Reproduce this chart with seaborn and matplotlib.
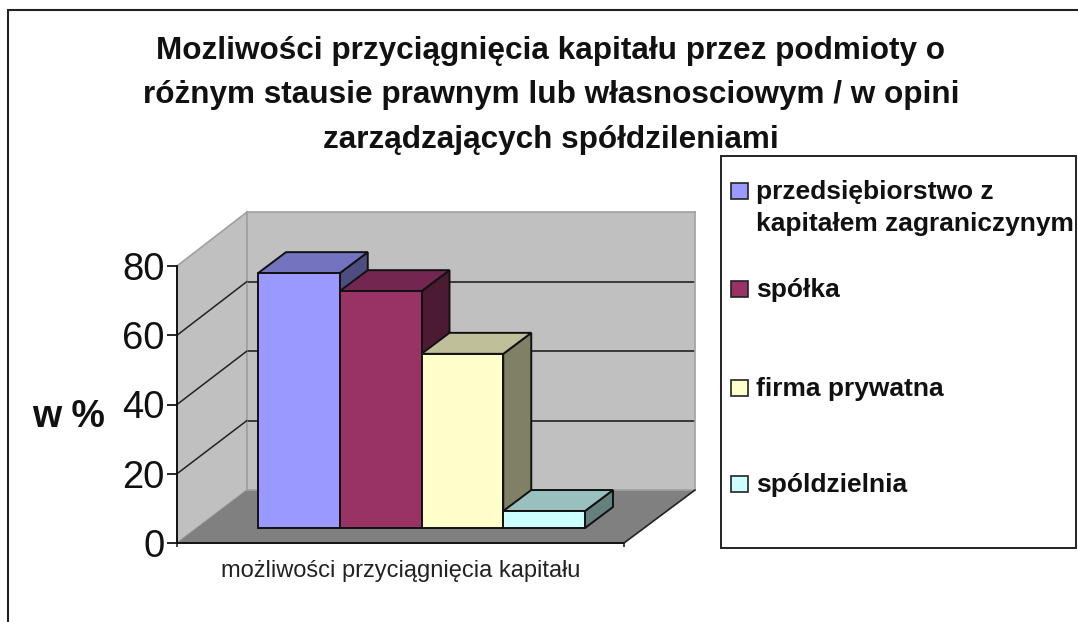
import matplotlib
matplotlib.use('Agg')
import matplotlib.pyplot as plt
import pandas as pd
import seaborn as sns
from matplotlib.patches import Polygon, Rectangle

# values
group = 'możliwości przyciągnięcia kapitału'
series = ['przedsiębiorstwo z\nkapitałem zagraniczynym', 'spółka', 'firma prywatna', 'spóldzielnia']
values = [73.6, 68.4, 50.3, 4.9]
y_ticks = [0, 20, 40, 60, 80]
bar_colors = ['#9999FF', '#993366', '#FFFFCC', '#CCFFFF']
top_colors = ['#7373BF', '#732650', '#BFBF99', '#99BFBF']
side_colors = ['#4D4D80', '#4D1A33', '#808066', '#668080']
title = ('Mozliwości przyciągnięcia kapitału przez podmioty o\n'
         'różnym stausie prawnym lub własnosciowym / w opini\n'
         'zarządzających spółdzileniami')

W, H = 1078, 622
sns.set_style('white')
plt.rcParams['font.family'] = ['Liberation Sans', 'DejaVu Sans']

fig = plt.figure(figsize=(W / 100, H / 100), dpi=100)


def fx(px):
    return px / W


def fy(py):
    return 1 - py / H


def box(x0, x1, y_top, y_bottom):
    return [fx(x0), fy(y_bottom), (x1 - x0) / W, (y_bottom - y_top) / H]


def fig_poly(points, **kw):
    fig.add_artist(Polygon([(fx(x), fy(y)) for x, y in points], closed=True,
                           transform=fig.transFigure, **kw))


# outer border, runs off the right and bottom of the picture
fig.add_artist(Rectangle((fx(7.5), fy(700)), 1.2, fy(9.5) - fy(700), transform=fig.transFigure,
                         fill=False, edgecolor='#222222', linewidth=1.5))

fig.text(fx(551), fy(36), title, ha='center', va='top', fontsize=22.7, fontweight='bold',
         linespacing=1.62, color='#111111')

# chart planes
front = (177, 624, 266, 543)
back = (247, 695, 212, 490)
plane = (198, 645, 251, 528)

fig_poly([(front[0], front[2]), (back[0], back[2]), (back[0], back[3]), (front[0], front[3])],
         facecolor='#C0C0C0', edgecolor='#A0A0A0', linewidth=1.2, zorder=0.2)
fig_poly([(front[0], front[3]), (front[1], front[3]), (back[1], back[3]), (back[0], back[3])],
         facecolor='#808080', edgecolor='none', zorder=0.2)

ax_back = fig.add_axes(box(*back), zorder=1)
ax_back.set_facecolor('#C0C0C0')
ax_back.set_xlim(-0.5, 0.5)
ax_back.set_ylim(0, 80)
ax_back.set_xticks([])
ax_back.set_yticks(y_ticks[1:-1])
ax_back.set_yticklabels([])
ax_back.tick_params(left=False)
ax_back.grid(True, axis='y', color='#222222', linewidth=1.2)
for s in ax_back.spines.values():
    s.set_color('#A0A0A0')
    s.set_linewidth(1.2)

ax_front = fig.add_axes(box(*front), zorder=2)
ax_front.patch.set_alpha(0)
ax_front.set_xlim(-0.5, 0.5)
ax_front.set_ylim(0, 80)
ax_front.set_yticks(y_ticks)
ax_front.set_xticks([0])
ax_front.set_xticklabels([group], fontsize=17, color='#222222')
ax_front.tick_params(axis='x', length=0, pad=12)
ax_front.tick_params(axis='y', length=7, width=1.4, labelsize=27.5, pad=2, left=True, labelcolor='#111111')
ax_front.set_xticks([-0.5, 0.5], minor=True)
ax_front.tick_params(axis='x', which='minor', length=3, width=1.2, bottom=True)
ax_front.set_ylabel('w %', fontsize=27, fontweight='bold', rotation=0, color='#111111')
ax_front.yaxis.set_label_coords((69 - front[0]) / (front[1] - front[0]), (543 - 417) / 277, transform=ax_front.transAxes)
ax_front.yaxis.label.set_verticalalignment('center')
sns.despine(ax=ax_front)
for s in ['left', 'bottom']:
    ax_front.spines[s].set_color('#111111')
    ax_front.spines[s].set_linewidth(1.4)

# gridlines across the side wall, and the floor's right edge
for t in y_ticks[1:-1]:
    a = ax_front.transData.transform((-0.5, t))
    b = ax_back.transData.transform((-0.5, t))
    fig.add_artist(plt.Line2D([a[0] / W, b[0] / W], [a[1] / H, b[1] / H], transform=fig.transFigure,
                              color='#222222', linewidth=1.1, zorder=1.5))
a = ax_front.transData.transform((0.5, 0))
b = ax_back.transData.transform((0.5, 0))
fig.add_artist(plt.Line2D([a[0] / W, b[0] / W], [a[1] / H, b[1] / H], transform=fig.transFigure,
                          color='#222222', linewidth=1.2, zorder=3))

# bars
df = pd.DataFrame({'group': [group] * len(series), 'series': series, 'value': values})
ax = fig.add_axes(box(*plane), zorder=4)
sns.barplot(data=df, x='group', y='value', hue='series', hue_order=series, palette=bar_colors,
            width=327 / 447, saturation=1, edgecolor='#111111', linewidth=1.4, legend=False, ax=ax)
ax.set_xlim(-0.5, 0.5)
ax.set_ylim(0, 80)
ax.axis('off')

# depth of a bar, in data units of the bar plane
dx = 28 / (plane[1] - plane[0])
dy = 21 / ((plane[3] - plane[2]) / 80)
bars = sorted(ax.patches, key=lambda p: p.get_x())
for i, p in enumerate(bars):
    x0, x1, h = p.get_x(), p.get_x() + p.get_width(), p.get_height()
    p.set_zorder(3 + i + 0.5)
    p.set_clip_on(False)
    ax.add_patch(Polygon([(x1, 0), (x1 + dx, dy), (x1 + dx, h + dy), (x1, h)], closed=True,
                         facecolor=side_colors[i], edgecolor='#111111', linewidth=1.4,
                         clip_on=False, zorder=3 + i))
    ax.add_patch(Polygon([(x0, h), (x0 + dx, h + dy), (x1 + dx, h + dy), (x1, h)], closed=True,
                         facecolor=top_colors[i], edgecolor='#111111', linewidth=1.4,
                         clip_on=False, zorder=3 + i))

# legend box
fig.add_artist(Rectangle((fx(721), fy(548)), (1076 - 721) / W, (548 - 156) / H, transform=fig.transFigure,
                         facecolor='white', edgecolor='#222222', linewidth=1.4, zorder=5))
legend_y = [191, 289, 388, 484]
for label, color, y in zip(series, bar_colors, legend_y):
    fig.add_artist(Rectangle((fx(731), fy(y + 8)), 17 / W, 16 / H, transform=fig.transFigure,
                             facecolor=color, edgecolor='#222222', linewidth=1.2, zorder=6))
    fig.text(fx(756), fy(y - 11), label, ha='left', va='top', fontsize=19, fontweight='bold',
             linespacing=1.44, color='#111111', zorder=6)

fig.savefig('out.png', dpi=100)
